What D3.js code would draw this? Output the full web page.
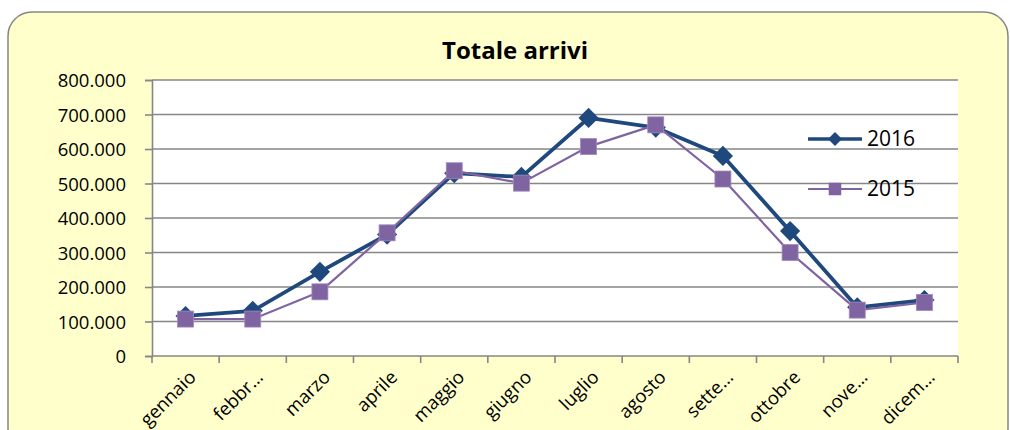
<!DOCTYPE html>
<html>
<head>
<meta charset="utf-8">
<script src="https://cdn.jsdelivr.net/npm/d3@7"></script>
<style>
  body { margin: 0; background: #fff; }
  text { font-family: "Open Sans", sans-serif; fill: #000; }
</style>
</head>
<body>
<div id="chart"></div>
<script>
var months = ["gennaio", "febbr…", "marzo", "aprile", "maggio", "giugno",
              "luglio", "agosto", "sette…", "ottobre", "nove…", "dicem…"];
var arrivi2016 = [116000, 131000, 244000, 352000, 530000, 519000,
                  690000, 662000, 580000, 362000, 141000, 162000];
var arrivi2015 = [107000, 107000, 186000, 357000, 537000, 501000,
                  607000, 670000, 513000, 300000, 133000, 155000];
var yTicks = [0, 100000, 200000, 300000, 400000, 500000, 600000, 700000, 800000];
var seriesNames = ["2016", "2015"];

var width = 1010;
var height = 430;
var plot = {left: 152, top: 80, right: 958, bottom: 356};

var it = d3.formatLocale({decimal: ",", thousands: ".", grouping: [3], currency: ["", "€"]});
var fmt = it.format(",");

var svg = d3.select("#chart").append("svg")
  .attr("width", width)
  .attr("height", height);

// chart area
svg.append("rect")
  .attr("x", 8).attr("y", 12)
  .attr("width", 1000).attr("height", 440)
  .attr("rx", 24).attr("ry", 24)
  .style("fill", "#ffffcc")
  .style("stroke", "#868686")
  .style("stroke-width", 1.5);

var xScale = d3.scaleBand()
  .domain(months)
  .range([plot.left, plot.right]);

var yScale = d3.scaleLinear()
  .domain([0, 800000])
  .range([plot.bottom, plot.top]);

svg.append("rect")
  .attr("x", plot.left).attr("y", plot.top)
  .attr("width", plot.right - plot.left)
  .attr("height", plot.bottom - plot.top)
  .style("fill", "#fff");

/* gridlines */
svg.append("g")
  .selectAll("line")
  .data(yTicks).enter()
  .append("line")
  .attr("x1", plot.left).attr("x2", plot.right)
  .attr("y1", d => yScale(d)).attr("y2", d => yScale(d))
  .style("stroke", "#868686")
  .style("stroke-width", 1.6);

/* y axis */
var yAxis = d3.axisLeft(yScale)
  .tickValues(yTicks)
  .tickFormat(d => d === 0 ? "0" : fmt(d))
  .tickSize(7)
  .tickPadding(19);

var yg = svg.append("g")
  .attr("transform", `translate(${plot.left},0)`)
  .call(yAxis);
yg.select(".domain").style("stroke", "#868686").style("stroke-width", 1.6);
yg.selectAll(".tick line").style("stroke", "#868686").style("stroke-width", 1.6);
yg.selectAll("text")
  .style("font-family", "'Open Sans', sans-serif")
  .style("font-size", "18.5px")
  .attr("dy", "0.36em");

/* x axis: ticks between categories */
var bounds = months.map(m => xScale(m)).concat([xScale.range()[1]]);
svg.append("g")
  .selectAll("line")
  .data(bounds).enter()
  .append("line")
  .attr("x1", d => d).attr("x2", d => d)
  .attr("y1", plot.bottom).attr("y2", plot.bottom + 7)
  .style("stroke", "#868686")
  .style("stroke-width", 1.6);

svg.append("g")
  .selectAll("text")
  .data(months).enter()
  .append("text")
  .attr("transform", d => `translate(${xScale(d) + xScale.bandwidth() / 2 + 2},${plot.bottom + 13}) rotate(-45)`)
  .style("text-anchor", "end")
  .style("font-size", "18.5px")
  .attr("dy", "0.72em")
  .text(d => d);

/* lines */
var line = d3.line()
  .x((d, i) => xScale(months[i]) + xScale.bandwidth() / 2)
  .y(d => yScale(d));

var c2016 = "#1f497d";
var c2015 = "#8064a2";

svg.append("path")
  .attr("d", line(arrivi2016))
  .style("fill", "none")
  .style("stroke", c2016)
  .style("stroke-width", 3.8)
  .style("stroke-linejoin", "round");

svg.append("g")
  .selectAll("path")
  .data(arrivi2016).enter()
  .append("path")
  .attr("d", d3.symbol(d3.symbolDiamond2, 260))
  .attr("transform", (d, i) => `translate(${xScale(months[i]) + xScale.bandwidth() / 2},${yScale(d)})`)
  .style("fill", c2016);

svg.append("path")
  .attr("d", line(arrivi2015))
  .style("fill", "none")
  .style("stroke", c2015)
  .style("stroke-width", 2.2)
  .style("stroke-linejoin", "round");

svg.append("g")
  .selectAll("rect")
  .data(arrivi2015).enter()
  .append("rect")
  .attr("x", (d, i) => xScale(months[i]) + xScale.bandwidth() / 2 - 8)
  .attr("y", d => yScale(d) - 8)
  .attr("width", 16).attr("height", 16)
  .style("fill", c2015)
  .style("stroke", "#a08bbd")
  .style("stroke-width", 0.8);

/* title */
svg.append("text")
  .attr("x", 515).attr("y", 59)
  .style("text-anchor", "middle")
  .style("font-size", "24px")
  .style("font-weight", "bold")
  .text("Totale arrivi");

/* legend */
var legend = svg.selectAll(".legend")
  .data(seriesNames).enter()
  .append("g")
  .attr("class", "legend")
  .attr("transform", (d, i) => `translate(808,${139 + i * 50})`);

legend.append("line")
  .attr("x1", 0).attr("x2", 54)
  .attr("y1", 0).attr("y2", 0)
  .style("stroke", (d, i) => i === 0 ? c2016 : c2015)
  .style("stroke-width", (d, i) => i === 0 ? 3.5 : 2.2);

legend.append("path")
  .attr("d", (d, i) => i === 0 ? d3.symbol(d3.symbolDiamond2, 125)() : d3.symbol(d3.symbolSquare2, 200)())
  .attr("transform", "translate(27,0)")
  .style("fill", (d, i) => i === 0 ? c2016 : c2015);

legend.append("text")
  .attr("x", 59).attr("y", 7)
  .style("font-size", "21px")
  .text(d => d);
</script>
</body>
</html>
